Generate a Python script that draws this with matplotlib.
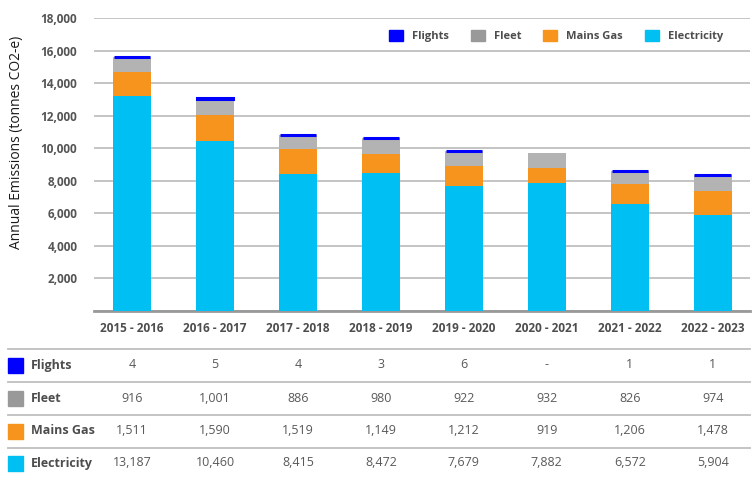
import numpy as np
import matplotlib.pyplot as plt
from matplotlib.transforms import blended_transform_factory
from matplotlib.patches import Patch, Rectangle

years = ["2015 - 2016", "2016 - 2017", "2017 - 2018", "2018 - 2019",
         "2019 - 2020", "2020 - 2021", "2021 - 2022", "2022 - 2023"]
electricity = [13187, 10460, 8415, 8472, 7679, 7882, 6572, 5904]
mains_gas = [1511, 1590, 1519, 1149, 1212, 919, 1206, 1478]
fleet = [916, 1001, 886, 980, 922, 932, 826, 974]
flights = [4, 5, 4, 3, 6, 0, 1, 1]
flights_txt = ["4", "5", "4", "3", "6", "-", "1", "1"]

c_elec = "#00BFF3"
c_gas = "#F7941D"
c_fleet = "#B3B3B3"
c_fleet_key = "#999999"
c_flight = "#0000FF"
txt = "#4D4D4D"
num = "#595959"

plt.rcParams["font.family"] = ["Open Sans", "DejaVu Sans"]

fig = plt.figure(figsize=(7.56, 4.8), dpi=100)
ax = fig.add_axes([94 / 756, 1 - 311 / 480, 656 / 756, 293 / 480])

x = np.arange(len(years))
e = np.array(electricity)
g = np.array(mains_gas)
f = np.array(fleet)
fl = np.array(flights)
w = 0.46

ax.bar(x, e, w, color=c_elec, zorder=3)
ax.bar(x, g, w, bottom=e, color=c_gas, zorder=3)
ax.bar(x, f, w, bottom=e + g, color=c_fleet, zorder=3)
# flights are tiny; a blue edge keeps the sliver visible as in the original
ax.bar(x, fl, w - 0.02, bottom=e + g + f, color=c_flight, edgecolor=c_flight,
       linewidth=[2.2 if v > 0 else 0 for v in fl], zorder=3)

ax.set_xlim(-0.46, 7.45)
ax.set_ylim(0, 18000)
ax.set_yticks(np.arange(0, 18001, 2000))
ax.set_yticklabels([""] + [f"{v:,}" for v in range(2000, 18001, 2000)])
ax.yaxis.grid(True, color="#BFBFBF", linewidth=1.3, zorder=0)
ax.set_axisbelow(True)
for s in ["top", "right", "left"]:
    ax.spines[s].set_visible(False)
ax.spines["bottom"].set_color("#999999")
ax.spines["bottom"].set_linewidth(2)
ax.tick_params(length=0)
ax.tick_params(axis="y", pad=12, labelsize=8.5, labelcolor="#555555")
ax.set_xticks(x)
ax.set_xticklabels(years)
ax.tick_params(axis="x", pad=8, labelsize=8.5, labelcolor=txt)
for lab in ax.get_xticklabels() + ax.get_yticklabels():
    lab.set_fontweight("bold")
ax.set_ylabel("Annual Emissions (tonnes CO2-e)", fontsize=10, color="#1A1A1A")
ax.yaxis.set_label_coords(-0.106, 0.575)

handles = [Patch(color=c_flight, label="Flights"),
           Patch(color=c_fleet_key, label="Fleet"),
           Patch(color=c_gas, label="Mains Gas"),
           Patch(color=c_elec, label="Electricity")]
leg = ax.legend(handles=handles, ncol=4, frameon=False, loc="center right",
                bbox_to_anchor=(733 / 756, 1 - 36 / 480),
                bbox_transform=fig.transFigure, prop={"size": 8, "weight": "bold"},
                handlelength=1.25, handleheight=1.25, handletextpad=0.8,
                columnspacing=2.0)
for t in leg.get_texts():
    t.set_color(txt)

# table below the chart
tax = fig.add_axes([0, 0, 1, 1], facecolor="none")
tax.set_xlim(0, 756)
tax.set_ylim(480, 0)
tax.axis("off")
tr = blended_transform_factory(ax.transData, tax.transData)

rows = [("Flights", c_flight, flights_txt),
        ("Fleet", c_fleet_key, [f"{v:,}" for v in fleet]),
        ("Mains Gas", c_gas, [f"{v:,}" for v in mains_gas]),
        ("Electricity", c_elec, [f"{v:,}" for v in electricity])]
row_y = [365, 398, 431, 463]
for yy in [349, 382, 415, 448]:
    tax.plot([8, 750], [yy, yy], color="#BFBFBF", linewidth=1.3)
for (name, col, vals), yy in zip(rows, row_y):
    tax.add_patch(Rectangle((8, yy - 7.5), 15, 15, color=col))
    tax.text(31, yy, name, fontsize=9, fontweight="bold", color=txt,
             ha="left", va="center")
    for i, v in enumerate(vals):
        tax.text(x[i], yy, v, transform=tr, fontsize=9, color=num,
                 ha="center", va="center")

fig.savefig("out.png", dpi=100)
